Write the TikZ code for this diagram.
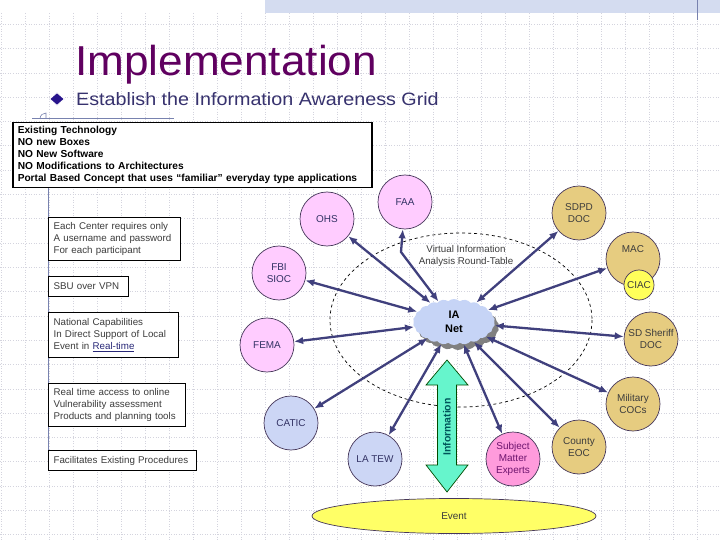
\documentclass[tikz,border=0pt]{standalone}
\usepackage{fontspec}
\setmainfont{Liberation Sans}
\usetikzlibrary{arrows.meta,shapes.geometric,shapes.symbols}
\definecolor{titlec}{RGB}{96,0,96}
\definecolor{subc}{RGB}{55,50,110}
\definecolor{bulletc}{RGB}{40,20,140}
\definecolor{gridc}{RGB}{212,212,222}
\definecolor{bandc}{RGB}{212,220,240}
\definecolor{rulec}{RGB}{120,130,175}
\definecolor{pinkc}{RGB}{255,204,255}
\definecolor{tanc}{RGB}{230,204,128}
\definecolor{yelc}{RGB}{255,255,90}
\definecolor{bluec}{RGB}{204,214,245}
\definecolor{smec}{RGB}{255,155,220}
\definecolor{evc}{RGB}{255,255,102}
\definecolor{aquac}{RGB}{102,245,204}
\definecolor{arrc}{RGB}{64,64,125}
\definecolor{edgec}{RGB}{70,55,90}
\definecolor{navyt}{RGB}{50,50,100}
\definecolor{greyt}{RGB}{60,60,60}
\definecolor{purpt}{RGB}{110,20,110}
\definecolor{cloudc}{RGB}{198,212,246}
\definecolor{shadc}{RGB}{128,128,128}
\definecolor{linkc}{RGB}{40,40,120}
\begin{document}
\begin{tikzpicture}[x=1bp,y=-1bp,
  gridline/.style={gridc,dotted,line width=0.6bp},
  tbox/.style={draw=black,line width=1.2bp,fill=white,anchor=north west,align=left,inner xsep=5bp,inner ysep=2bp,text=greyt,font=\fontsize{9.8}{12}\selectfont},
  circ/.style={circle,draw=edgec,line width=0.7bp,minimum size=54bp,inner sep=0pt,align=center,font=\fontsize{10}{12}\selectfont},
  pinkcirc/.style={circ,fill=pinkc,text=navyt},
  tancirc/.style={circ,fill=tanc,text=greyt},
  bluecirc/.style={circ,fill=bluec,text=navyt},
  iacloud/.style={cloud,cloud puffs=22,cloud puff arc=85,aspect=1.8,minimum width=82bp,minimum height=46bp,draw=none,inner sep=0pt},
  biarrow/.style={arrc,line width=2.3bp,{Latex[length=9bp,width=7.5bp]}-{Latex[length=9bp,width=7.5bp]}}
]
\useasboundingbox (0,0) rectangle (720,540);
\fill[white] (0,0) rectangle (720,540);
% background grid
\foreach \i in {0,...,29} \draw[gridline] ({1+24*\i},13) -- ({1+24*\i},540);
\foreach \j in {1,...,22} \draw[gridline] (0,{24.3*\j}) -- (720,{24.3*\j});
\fill[bandc] (265,0) rectangle (720,13);
\draw[rulec,line width=1bp] (697,0) -- (697,20);
\draw[rulec,line width=1bp] (32,119) -- (174,119);
\draw[rulec,line width=0.6bp] (40,119) .. controls (40,115) and (43,113) .. (46,113) -- (46,118);
\draw[rulec,line width=1bp] (48,187) -- (48,470);
% title
\node[anchor=base west,inner sep=0pt,text=titlec,font=\fontsize{42}{48}\selectfont] (title) at (75,76) {\scalebox{1.055}[1]{Implementation}};
\node[diamond,fill=bulletc,draw=white,line width=0.8bp,minimum width=15bp,minimum height=13bp,inner sep=0pt] (bullet) at (57,99) {};
\node[anchor=base west,inner sep=0pt,text=subc,font=\fontsize{18}{21}\selectfont] (sub) at (76,106) {\scalebox{1.1}[1]{Establish the Information Awareness Grid}};
% text boxes
\node[tbox,text=black,line width=1.5bp,minimum width=359bp,minimum height=65bp,text width=349bp,font=\bfseries\fontsize{10.2}{12}\selectfont] (tech) at (12,122) {Existing Technology\\NO new Boxes\\NO New Software\\NO Modifications to Architectures\\Portal Based Concept that uses “familiar” everyday type applications};
\node[tbox,minimum width=132bp,minimum height=43bp,text width=122bp] (each) at (48,217) {Each Center requires only\\A username and password\\For each participant};
\node[tbox,minimum width=76bp,minimum height=20bp,text width=70bp] (sbu) at (48,276) {SBU over VPN};
\node[tbox,minimum width=128bp,minimum height=45bp,text width=120bp] (natl) at (48,312) {National Capabilities\\In Direct Support of Local\\Event in {\color{linkc}\underline{Real-time}}};
\node[tbox,minimum width=137bp,minimum height=43bp,text width=127bp] (rt) at (48,383) {Real time access to online\\Vulnerability assessment\\Products and planning tools};
\node[tbox,minimum width=148bp,minimum height=20bp,text width=138bp] (facil) at (48,450) {Facilitates Existing Procedures};
% dashed round table
\draw[black,dashed,line width=0.7bp] (461,320) ellipse [x radius=131, y radius=87];
\node[text=greyt,align=center,font=\fontsize{9.8}{12}\selectfont] (vtext) at (466,256) {Virtual Information\\Analysis Round-Table};
% circles
\node[pinkcirc] (faa) at (405,202) {FAA};
\node[pinkcirc] (ohs) at (327,219) {OHS};
\node[pinkcirc] (fbi) at (279,273) {FBI\\SIOC};
\node[pinkcirc] (fema) at (267,345) {FEMA};
\node[tancirc] (sdpd) at (579,213) {SDPD\\DOC};
\node[tancirc] (mac) at (633,259) {MAC\\[9bp]};
\node[circ,minimum size=30bp,fill=yelc,text=greyt] (ciac) at (639,285) {CIAC};
\node[tancirc] (sheriff) at (651,339) {SD Sheriff\\DOC};
\node[tancirc] (mil) at (633,404) {Military\\COCs};
\node[tancirc] (county) at (579,447) {County\\EOC};
\node[circ,fill=smec,text=purpt] (sme) at (513,459) {Subject\\Matter\\Experts};
\node[bluecirc] (latew) at (375,459) {LA TEW};
\node[bluecirc] (catic) at (291,423) {CATIC};
% cloud
\node[iacloud,fill=shadc] (iashadow) at (458,327) {};
\node[iacloud,fill=cloudc,align=center,font=\bfseries\fontsize{11}{14}\selectfont] (ia) at (454,322) {IA\\Net};
% connectors
\coordinate (faabend) at (401,252);
\draw[biarrow] (faa) -- (faabend) -- (ia);
\draw[biarrow] (ohs) -- (ia);
\draw[biarrow] (fbi) -- (ia);
\draw[biarrow] (fema) -- (ia);
\draw[biarrow] (sdpd) -- (ia);
\draw[biarrow] (mac) -- (ia);
\draw[biarrow] (sheriff) -- (ia);
\draw[biarrow] (mil) -- (ia);
\draw[biarrow] (county) -- (ia);
\draw[biarrow] (sme) -- (ia);
\draw[biarrow] (latew) -- (ia);
\draw[biarrow] (catic) -- (ia);
% information arrow
\draw[fill=aquac,draw=black!70!green,line width=0.7bp] (447,360) -- (468,385) -- (456.5,385) -- (456.5,465) -- (468,465) -- (447,492) -- (426,465) -- (437.5,465) -- (437.5,385) -- (426,385) -- cycle;
\node[rotate=90,text={rgb,255:red,0;green,85;blue,90},font=\bfseries\fontsize{10.5}{12}\selectfont,inner sep=0pt] (info) at (447,427) {Information};
% event
\node[ellipse,fill=evc,draw=edgec,line width=0.7bp,minimum width=284bp,minimum height=35bp,inner sep=0pt,text=greyt,font=\fontsize{10}{12}\selectfont] (event) at (454,516) {Event};
\end{tikzpicture}
\end{document}
